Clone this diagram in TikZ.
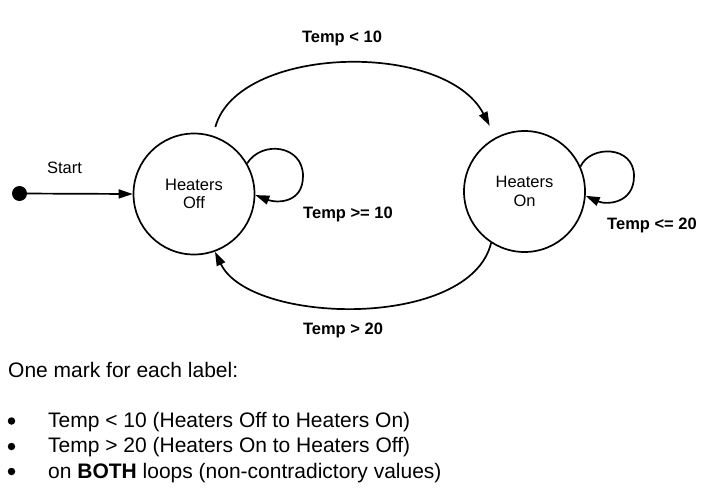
\documentclass[tikz,border=0pt]{standalone}
\usepackage{fontspec}
\setmainfont{Liberation Sans}
\usetikzlibrary{arrows.meta}
\begin{document}
\begin{tikzpicture}[x=1pt,y=-1pt,
  state/.style={draw, line width=1.7pt, circle, minimum size=121pt, inner sep=0pt, align=center,
    font=\fontsize{16.5}{18.5}\selectfont},
  lbl/.style={font=\fontsize{16.5}{19}\selectfont\bfseries, inner sep=0pt},
  plain/.style={font=\fontsize{16.5}{19}\selectfont, inner sep=0pt},
  body/.style={font=\fontsize{21}{25}\selectfont, inner sep=0pt, anchor=base west},
  dot/.style={circle, fill=black, inner sep=0pt},
  edge/.style={line width=1.7pt, -{Triangle[length=14pt,width=9pt]}}
]
\useasboundingbox (0,0) rectangle (717,487);

\node[state] (off) at (194,194) {Heaters\\Off};
\node[state] (on) at (524.5,191.5) {Heaters\\On};
\node[dot, minimum size=15pt] (s) at (19.5,193.5) {};

\draw[edge] (s) -- (off.180);
\node[plain] (lstart) at (64.5,168) {Start};

% Off -> On
\draw[edge, shorten <=9pt, shorten >=13pt] (off.72) .. controls (238,45) and (445,40) .. (on.118);
\node[lbl] (l1) at (342,38) {Temp < 10};

% On -> Off
\draw[edge] (on.237) .. controls (470,330) and (250,325) .. (off.-70);
\node[lbl] (l2) at (343,330) {Temp > 20};

% Off loop
\draw[edge] (off.30) .. controls (262,140) and (303,145) .. (303,176) .. controls (303,204) and (276,203) .. (off.-1);
\node[lbl] (l3) at (348,214) {Temp >= 10};

% On loop
\draw[edge] (on.24) .. controls (590,145) and (634,145) .. (634,176) .. controls (634,204) and (606,205) .. (on.-4);
\node[lbl] (l4) at (652,225) {Temp <= 20};

% Marking text
\node[body] (t0) at (8,377) {One mark for each label:};
\node[dot, minimum size=7.5pt] (b1) at (11.5,421) {};
\node[dot, minimum size=7.5pt] (b2) at (11.5,446.5) {};
\node[dot, minimum size=7.5pt] (b3) at (11.5,471.5) {};
\node[body] (t1) at (48,427) {Temp < 10 (Heaters Off to Heaters On)};
\node[body] (t2) at (48,452.5) {Temp > 20 (Heaters On to Heaters Off)};
\node[body] (t3) at (48,478) {on \textbf{BOTH} loops (non-contradictory values)};
\end{tikzpicture}
\end{document}
